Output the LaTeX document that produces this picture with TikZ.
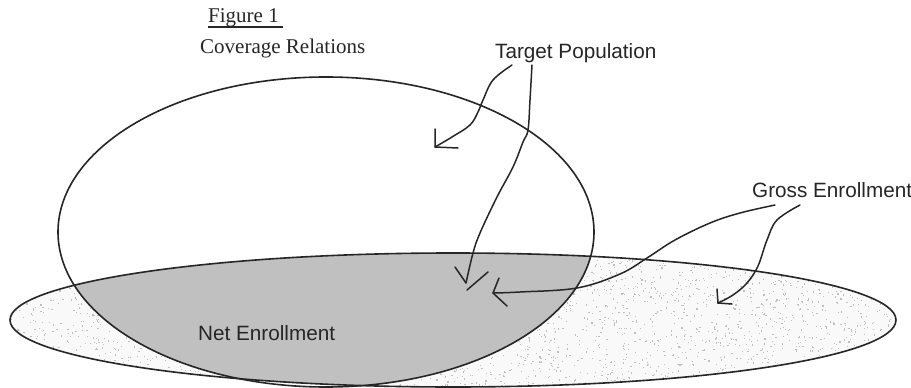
\documentclass[tikz,border=0pt]{standalone}
\usepackage{fontspec}
\setmainfont{Liberation Serif}
\setsansfont{Liberation Sans}
\definecolor{netgray}{HTML}{C0C0C0}
\definecolor{ink}{HTML}{262626}
\begin{document}
\begin{tikzpicture}[x=1pt,y=-1pt,
  outline/.style={draw=ink,line width=1.6pt},
  pointer/.style={draw=ink,line width=1.5pt,line cap=round,line join=round},
  label/.style={inner sep=0pt,anchor=base west,text=ink,font=\sffamily\fontsize{20.7}{24}\selectfont},
  title/.style={inner sep=0pt,anchor=base west,text=ink,font=\rmfamily\fontsize{21}{24}\selectfont}]
\useasboundingbox (0,0) rectangle (911,388);
\fill[white] (0,0) rectangle (911,388);

% gross enrollment speckle
\begin{scope}
  \clip (453,320) ellipse [x radius=443pt, y radius=67pt];
  \fill[gray!5] (0,240) rectangle (911,388);
  \pgfmathsetseed{17}
  \foreach \i in {1,...,3200}{
    \pgfmathsetmacro\rx{10+887*rnd}
    \pgfmathsetmacro\ry{253+135*rnd}
    \fill[gray!50] (\rx,\ry) rectangle ++(1.2,1.2);
  }
  % net enrollment (intersection)
  \fill[netgray] (326,232) ellipse [x radius=268pt, y radius=155pt];
\end{scope}

% outlines
\draw[outline] (326,232) ellipse [x radius=268pt, y radius=155pt];
\draw[outline] (453,320) ellipse [x radius=443pt, y radius=67pt];

% titles
\node[title] (fig) at (208,23) {Figure 1};
\draw[ink,line width=1.3pt] (fig.base west) ++(0,4) -- ++(75,0);
\node[title] (cov) at (200,53) {Coverage Relations};

% labels
\node[label] (tp) at (495,58) {Target Population};
\node[label] (ge) at (752,197) {Gross Enrollment};
\node[label] (ne) at (198,340) {Net Enrollment};

% arrow coordinates
\coordinate (tpA) at (512,65);
\coordinate (tpB) at (532,65);
\coordinate (geA) at (775,205);
\coordinate (geB) at (800,205);
\coordinate (tip1) at (435,147);
\coordinate (tip2) at (466,283);
\coordinate (tip3) at (493,293);
\coordinate (tip4) at (718,303);

% Target Population -> target population region
\draw[pointer] plot[smooth,tension=0.6] coordinates {(tpA) (493,80) (483,100) (478,112) (470,125) (452,137) (tip1)};
\draw[pointer] (tip1) -- ++(0,-18) (tip1) -- ++(23,1);
% Target Population -> net enrollment
\draw[pointer] plot[smooth,tension=0.6] coordinates {(tpB) (530,100) (528,130) (523,142) (513,167) (497,197) (480,233) (473,253) (tip2)};
\draw[pointer] (tip2) -- (455,267) (467,290) -- (488,272);
% Gross Enrollment -> net enrollment
\draw[pointer] plot[smooth,tension=0.6] coordinates {(geA) (740,213) (710,223) (675,240) (647,258) (620,274) (577,288) (520,292) (tip3)};
\draw[pointer] (tip3) -- (499,278) (tip3) -- (507,306);
% Gross Enrollment -> gross enrollment region
\draw[pointer] plot[smooth,tension=0.6] coordinates {(geB) (777,220) (767,240) (758,266) (747,283) (733,295) (tip4)};
\draw[pointer] (tip4) -- ++(-1,-14) (tip4) -- ++(14,1);
\end{tikzpicture}
\end{document}
